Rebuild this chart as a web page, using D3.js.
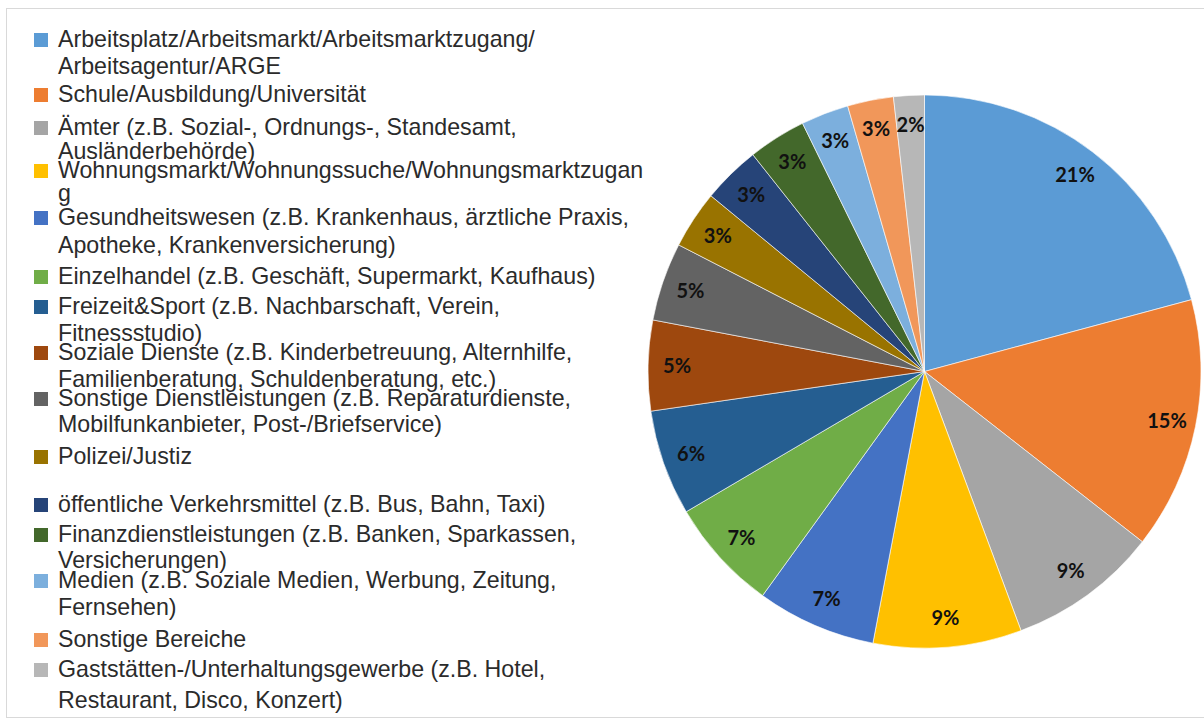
<!DOCTYPE html>
<html>
<head>
<meta charset="utf-8">
<script src="https://cdn.jsdelivr.net/npm/d3@7"></script>
<style>
  body { margin: 0; background: #fff; }
  .legend text { font-family: "Liberation Sans", Arial, sans-serif; font-size: 23.2px; fill: #2b2b2b; }
  .pct { font-family: Lato, "Noto Sans", sans-serif; font-size: 20px; font-weight: bold; fill: #111; }
</style>
</head>
<body>
<div id="chart"></div>
<script>
let svgWidth = 1204;
let svgHeight = 722;

// categories (legend lines as they wrap in the picture)
let categories = [
    ["Arbeitsplatz/Arbeitsmarkt/Arbeitsmarktzugang/", "Arbeitsagentur/ARGE"],
    ["Schule/Ausbildung/Universität"],
    ["Ämter (z.B. Sozial-, Ordnungs-, Standesamt,", "Ausländerbehörde)"],
    ["Wohnungsmarkt/Wohnungssuche/Wohnungsmarktzugan", "g"],
    ["Gesundheitswesen (z.B. Krankenhaus, ärztliche Praxis,", "Apotheke, Krankenversicherung)"],
    ["Einzelhandel (z.B. Geschäft, Supermarkt, Kaufhaus)"],
    ["Freizeit&Sport (z.B. Nachbarschaft, Verein,", "Fitnessstudio)"],
    ["Soziale Dienste (z.B. Kinderbetreuung, Alternhilfe,", "Familienberatung, Schuldenberatung, etc.)"],
    ["Sonstige Dienstleistungen (z.B. Reparaturdienste,", "Mobilfunkanbieter, Post-/Briefservice)"],
    ["Polizei/Justiz"],
    ["öffentliche Verkehrsmittel (z.B. Bus, Bahn, Taxi)"],
    ["Finanzdienstleistungen (z.B. Banken, Sparkassen,", "Versicherungen)"],
    ["Medien (z.B. Soziale Medien, Werbung, Zeitung,", "Fernsehen)"],
    ["Sonstige Bereiche"],
    ["Gaststätten-/Unterhaltungsgewerbe (z.B. Hotel,", "Restaurant, Disco, Konzert)"]
];

// share in percent
let values = [20.9, 14.8, 8.8, 8.7, 7.0, 6.6, 6.2, 5.3, 4.6, 3.4, 3.4, 3.4, 2.8, 2.7, 1.8];

let colors = ["#5B9BD5", "#ED7D31", "#A5A5A5", "#FFC000", "#4472C4", "#70AD47", "#255E91",
    "#9E480E", "#636363", "#997300", "#264478", "#43682B", "#7CAFDD", "#F1975A", "#B7B7B7"];

// baselines of legend lines (the legend is squeezed, lines overlap a bit)
let legendBaselines = [
    [47, 74], [102], [135, 159], [178, 201], [225, 253], [284], [314, 341],
    [360, 387], [406, 432], [464], [512], [542, 568], [588, 615], [647], [677, 708]
];

let svg = d3.select("#chart")
    .append("svg")
    .attr("width", svgWidth)
    .attr("height", svgHeight);

// light frame of the chart area
svg.append("rect")
    .attr("x", 6.5)
    .attr("y", 8.5)
    .attr("width", 1220)
    .attr("height", 709)
    .attr("fill", "none")
    .attr("stroke", "#d9d9d9");

// pie
let cx = 924.5, cy = 371.5, radius = 276.5;
let total = d3.sum(values);

let pie = d3.pie().sort(null).value(d => d)(values);
let arc = d3.arc().innerRadius(0).outerRadius(radius);
let labelArc = d3.arc().innerRadius(radius * 0.895).outerRadius(radius * 0.895);

let pieGroup = svg.append("g")
    .attr("transform", `translate(${cx}, ${cy})`);

pieGroup.selectAll("path")
    .data(pie)
    .enter()
    .append("path")
    .attr("d", arc)
    .attr("fill", (d, i) => colors[i])
    .attr("stroke", "#ffffff")
    .attr("stroke-width", 0.6);

pieGroup.selectAll("text")
    .data(pie)
    .enter()
    .append("text")
    .attr("class", "pct")
    .attr("transform", d => {
        let c = labelArc.centroid(d);
        return `translate(${c[0]}, ${c[1]})`;
    })
    .attr("text-anchor", "middle")
    .attr("dy", "0.36em")
    .text(d => Math.round(d.value / total * 100) + "%");

// legend
let legend = svg.append("g").attr("class", "legend");

let items = legend.selectAll("g")
    .data(categories)
    .enter()
    .append("g");

items.append("rect")
    .attr("x", 34)
    .attr("y", (d, i) => legendBaselines[i][0] - 14)
    .attr("width", 14)
    .attr("height", 14)
    .attr("fill", (d, i) => colors[i]);

items.each(function (lines, i) {
    let g = d3.select(this);
    lines.forEach(function (line, j) {
        g.append("text")
            .attr("x", 58)
            .attr("y", legendBaselines[i][j])
            .text(line);
    });
});
</script>
</body>
</html>
